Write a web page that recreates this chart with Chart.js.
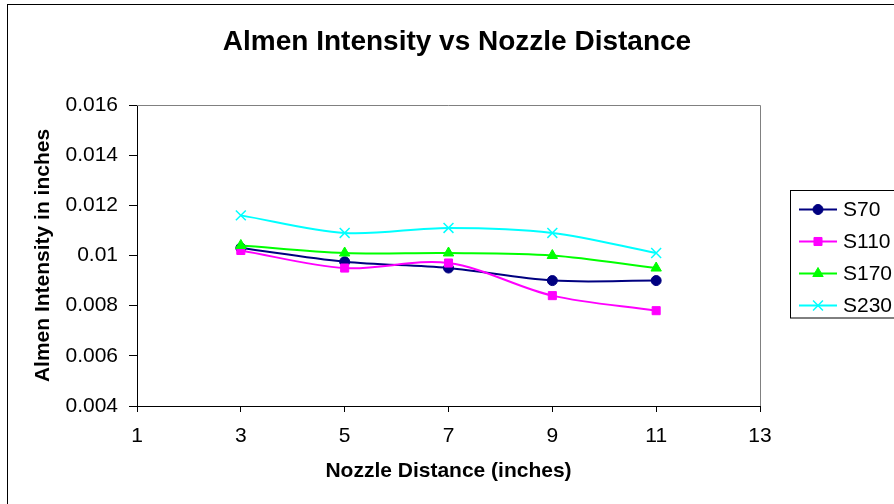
<!DOCTYPE html>
<html>
<head>
<meta charset="utf-8">
<title>Almen Intensity vs Nozzle Distance</title>
<script src="https://cdn.jsdelivr.net/npm/chart.js@4.4.0/dist/chart.umd.min.js"></script>
<style>
  html, body { margin: 0; padding: 0; background: #fff; }
  canvas { display: block; }
</style>
</head>
<body>
<canvas id="myChart" width="894" height="504"></canvas>
<script>
// nozzle distance in inches
var distances = [3, 5, 7, 9, 11];

// almen intensity in inches, per shot size
var s70  = [0.0103, 0.00975, 0.0095, 0.009, 0.009];
var s110 = [0.0102, 0.0095, 0.0097, 0.0084, 0.0078];
var s170 = [0.0104, 0.0101, 0.0101, 0.01, 0.0095];
var s230 = [0.0116, 0.0109, 0.0111, 0.0109, 0.0101];

var seriesNames = ['S70', 'S110', 'S170', 'S230'];

var xTicks = [1, 3, 5, 7, 9, 11, 13];
var yTicks = [0.004, 0.006, 0.008, 0.01, 0.012, 0.014, 0.016];

Chart.defaults.font.family = "'Liberation Sans', Arial, sans-serif";
Chart.defaults.color = '#000';

function points(values) {
    return values.map(function(v, i) { return { x: distances[i], y: v }; });
}

function makeSet(name, values, color, style, radius, order) {
    return {
        label: name,
        data: points(values),
        borderColor: color,
        backgroundColor: color,
        borderWidth: 2,
        pointStyle: style,
        pointRadius: radius,
        pointHoverRadius: radius,
        pointBorderWidth: style === 'crossRot' ? 1.5 : 1,
        tension: 0.33,
        order: order
    };
}

// frame round the whole chart plus the grey top/right edge of the plot area
var framePlugin = {
    id: 'frame',
    beforeDraw: function(chart) {
        var ctx = chart.ctx;
        ctx.save();
        ctx.fillStyle = '#fff';
        ctx.fillRect(0, 0, chart.width, chart.height);
        ctx.strokeStyle = '#000';
        ctx.lineWidth = 1;
        ctx.strokeRect(7.5, 4.5, 1000, 1000);
        ctx.restore();
    },
    beforeDatasetsDraw: function(chart) {
        var a = chart.chartArea;
        var ctx = chart.ctx;
        ctx.save();
        ctx.strokeStyle = '#808080';
        ctx.lineWidth = 1;
        ctx.beginPath();
        ctx.moveTo(a.left, Math.round(a.top) + 0.5);
        ctx.lineTo(Math.round(a.right) + 0.5, Math.round(a.top) + 0.5);
        ctx.lineTo(Math.round(a.right) + 0.5, a.bottom);
        ctx.stroke();
        ctx.restore();
    }
};

// excel style legend box: line sample with marker, then the name
var legendPlugin = {
    id: 'boxLegend',
    afterDraw: function(chart) {
        var ctx = chart.ctx;
        var sets = chart.data.datasets;
        var boxLeft = 790.5, boxTop = 190.5, rowH = 32;
        ctx.save();
        ctx.strokeStyle = '#000';
        ctx.lineWidth = 1;
        ctx.strokeRect(boxLeft, boxTop, 200, 127.5);
        for (var i = 0; i < sets.length; i++) {
            var ds = sets[i];
            var y = 209.5 + i * rowH;
            ctx.strokeStyle = ds.borderColor;
            ctx.lineWidth = 2;
            ctx.beginPath();
            ctx.moveTo(799, y);
            ctx.lineTo(837, y);
            ctx.stroke();
            // drawPoint uses the current fill/stroke, so set them first
            ctx.fillStyle = ds.backgroundColor;
            ctx.strokeStyle = ds.borderColor;
            ctx.lineWidth = ds.pointBorderWidth;
            Chart.helpers.drawPoint(ctx, {
                pointStyle: ds.pointStyle,
                radius: ds.pointRadius,
                rotation: 0,
                borderWidth: ds.pointBorderWidth
            }, 818, y);
            ctx.fillStyle = '#000';
            ctx.font = "21px 'Liberation Sans', Arial, sans-serif";
            ctx.textBaseline = 'middle';
            ctx.textAlign = 'left';
            ctx.fillText(ds.label, 843, y + 1);
        }
        ctx.restore();
    }
};

const ctx = document.getElementById('myChart').getContext('2d');
var myChart = new Chart(ctx, {
    type: 'line',
    data: {
        datasets: [
            makeSet(seriesNames[0], s70, '#000080', 'circle', 5, 4),
            makeSet(seriesNames[1], s110, '#FF00FF', 'rect', 5.7, 3),
            makeSet(seriesNames[2], s170, '#00FF00', 'triangle', 6, 2),
            makeSet(seriesNames[3], s230, '#00FFFF', 'crossRot', 7, 1)
        ]
    },
    options: {
        responsive: false,
        animation: false,
        events: [],
        layout: { padding: { left: 20, right: 0, top: 0, bottom: 0 } },
        plugins: {
            legend: { display: false },
            tooltip: { enabled: false },
            title: {
                display: true,
                text: 'Almen Intensity vs Nozzle Distance',
                font: { size: 28, weight: 'bold' },
                color: '#000',
                padding: { top: 25, bottom: 46.4 }
            }
        },
        scales: {
            x: {
                type: 'linear',
                min: 1,
                max: 13,
                afterBuildTicks: function(scale) {
                    scale.ticks = xTicks.map(function(v) { return { value: v }; });
                },
                afterFit: function(scale) { scale.height = 98; },
                grid: { drawOnChartArea: false, drawTicks: true, tickLength: 6, tickColor: '#000' },
                border: { color: '#000', width: 1 },
                ticks: { font: { size: 21 }, color: '#000', padding: 12, maxRotation: 0 },
                title: {
                    display: true,
                    text: 'Nozzle Distance (inches)',
                    font: { size: 21, weight: 'bold' },
                    color: '#000',
                    padding: { top: 0, bottom: 20 }
                }
            },
            y: {
                type: 'linear',
                min: 0.004,
                max: 0.016,
                afterBuildTicks: function(scale) {
                    scale.ticks = yTicks.map(function(v) { return { value: v }; });
                },
                afterFit: function(scale) { scale.width = 117; },
                grid: { drawOnChartArea: false, drawTicks: true, tickLength: 8, tickColor: '#000' },
                border: { color: '#000', width: 1 },
                ticks: {
                    font: { size: 21 },
                    color: '#000',
                    padding: 11,
                    callback: function(v) { return String(+v.toFixed(3)); }
                },
                title: {
                    display: true,
                    text: 'Almen Intensity in inches',
                    font: { size: 21, weight: 'bold' },
                    color: '#000',
                    padding: { top: 10.4, bottom: 0 }
                }
            },
            // empty right-hand axis that keeps room for the legend box
            yRight: {
                type: 'linear',
                position: 'right',
                min: 0.004,
                max: 0.016,
                afterFit: function(scale) { scale.width = 134; },
                grid: { display: false },
                border: { display: false },
                ticks: { display: false }
            }
        }
    },
    plugins: [framePlugin, legendPlugin]
});
</script>
</body>
</html>
